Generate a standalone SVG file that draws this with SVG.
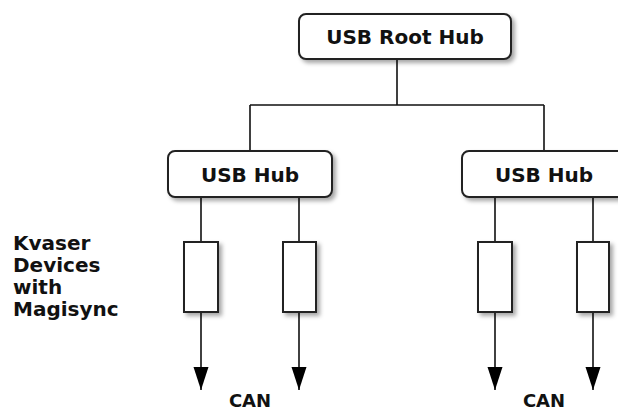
<svg xmlns="http://www.w3.org/2000/svg" width="618" height="412" viewBox="0 0 618 412">
<defs>
<filter id="sh" x="-20%" y="-20%" width="150%" height="160%">
<feDropShadow dx="3" dy="3" stdDeviation="2" flood-color="#000" flood-opacity="0.35"/>
</filter>
<marker id="arr" markerUnits="userSpaceOnUse" markerWidth="24" markerHeight="16" refX="23" refY="7.5" orient="auto">
<path d="M0,0 L23,7.5 L0,15 z" fill="#000"/>
</marker>
</defs>
<style>
.node{fill:#fff;stroke:#222;stroke-width:2;filter:url(#sh)}
.lbl{font-family:"DejaVu Sans",Verdana,sans-serif;font-weight:bold;font-size:20px;fill:#111;text-anchor:middle}
.can{font-size:18px}
.side{font-family:"DejaVu Sans",Verdana,sans-serif;font-weight:bold;font-size:20px;fill:#111}
.ln{stroke:#111;stroke-width:1.6;fill:none}
</style>
<rect width="618" height="412" fill="#fff"/>
<g id="connectors">
<path class="ln" d="M397,59 V105 M250,105 H544 M250,105 V151 M544,105 V151"/>
<path class="ln" d="M201,197 V242 M299,197 V242 M495,197 V242 M593,197 V242"/>
<path class="ln" d="M201,312 V390" marker-end="url(#arr)"/>
<path class="ln" d="M299,312 V390" marker-end="url(#arr)"/>
<path class="ln" d="M495,312 V390" marker-end="url(#arr)"/>
<path class="ln" d="M593,312 V390" marker-end="url(#arr)"/>
</g>
<g id="root-hub">
<rect class="node" x="299" y="14" width="212" height="45" rx="7"/>
<text class="lbl" x="405" y="43.5">USB Root Hub</text>
</g>
<g id="hub-left">
<rect class="node" x="168" y="151" width="164" height="46" rx="7"/>
<text class="lbl" x="250" y="181.5">USB Hub</text>
</g>
<g id="hub-right">
<rect class="node" x="462" y="151" width="164" height="46" rx="7"/>
<text class="lbl" x="544" y="181.5">USB Hub</text>
</g>
<g id="dev1"><rect class="node" x="184" y="242" width="34" height="70"/></g>
<g id="dev2"><rect class="node" x="283" y="242" width="33" height="70"/></g>
<g id="dev3"><rect class="node" x="478" y="242" width="34" height="70"/></g>
<g id="dev4"><rect class="node" x="577" y="242" width="32" height="70"/></g>
<g id="label-kvaser">
<text class="side" x="13" y="250">Kvaser</text>
<text class="side" x="13" y="272">Devices</text>
<text class="side" x="13" y="294">with</text>
<text class="side" x="13" y="316">Magisync</text>
</g>
<g id="can-left"><text class="lbl can" x="250" y="407">CAN</text></g>
<g id="can-right"><text class="lbl can" x="544" y="407">CAN</text></g>
</svg>
